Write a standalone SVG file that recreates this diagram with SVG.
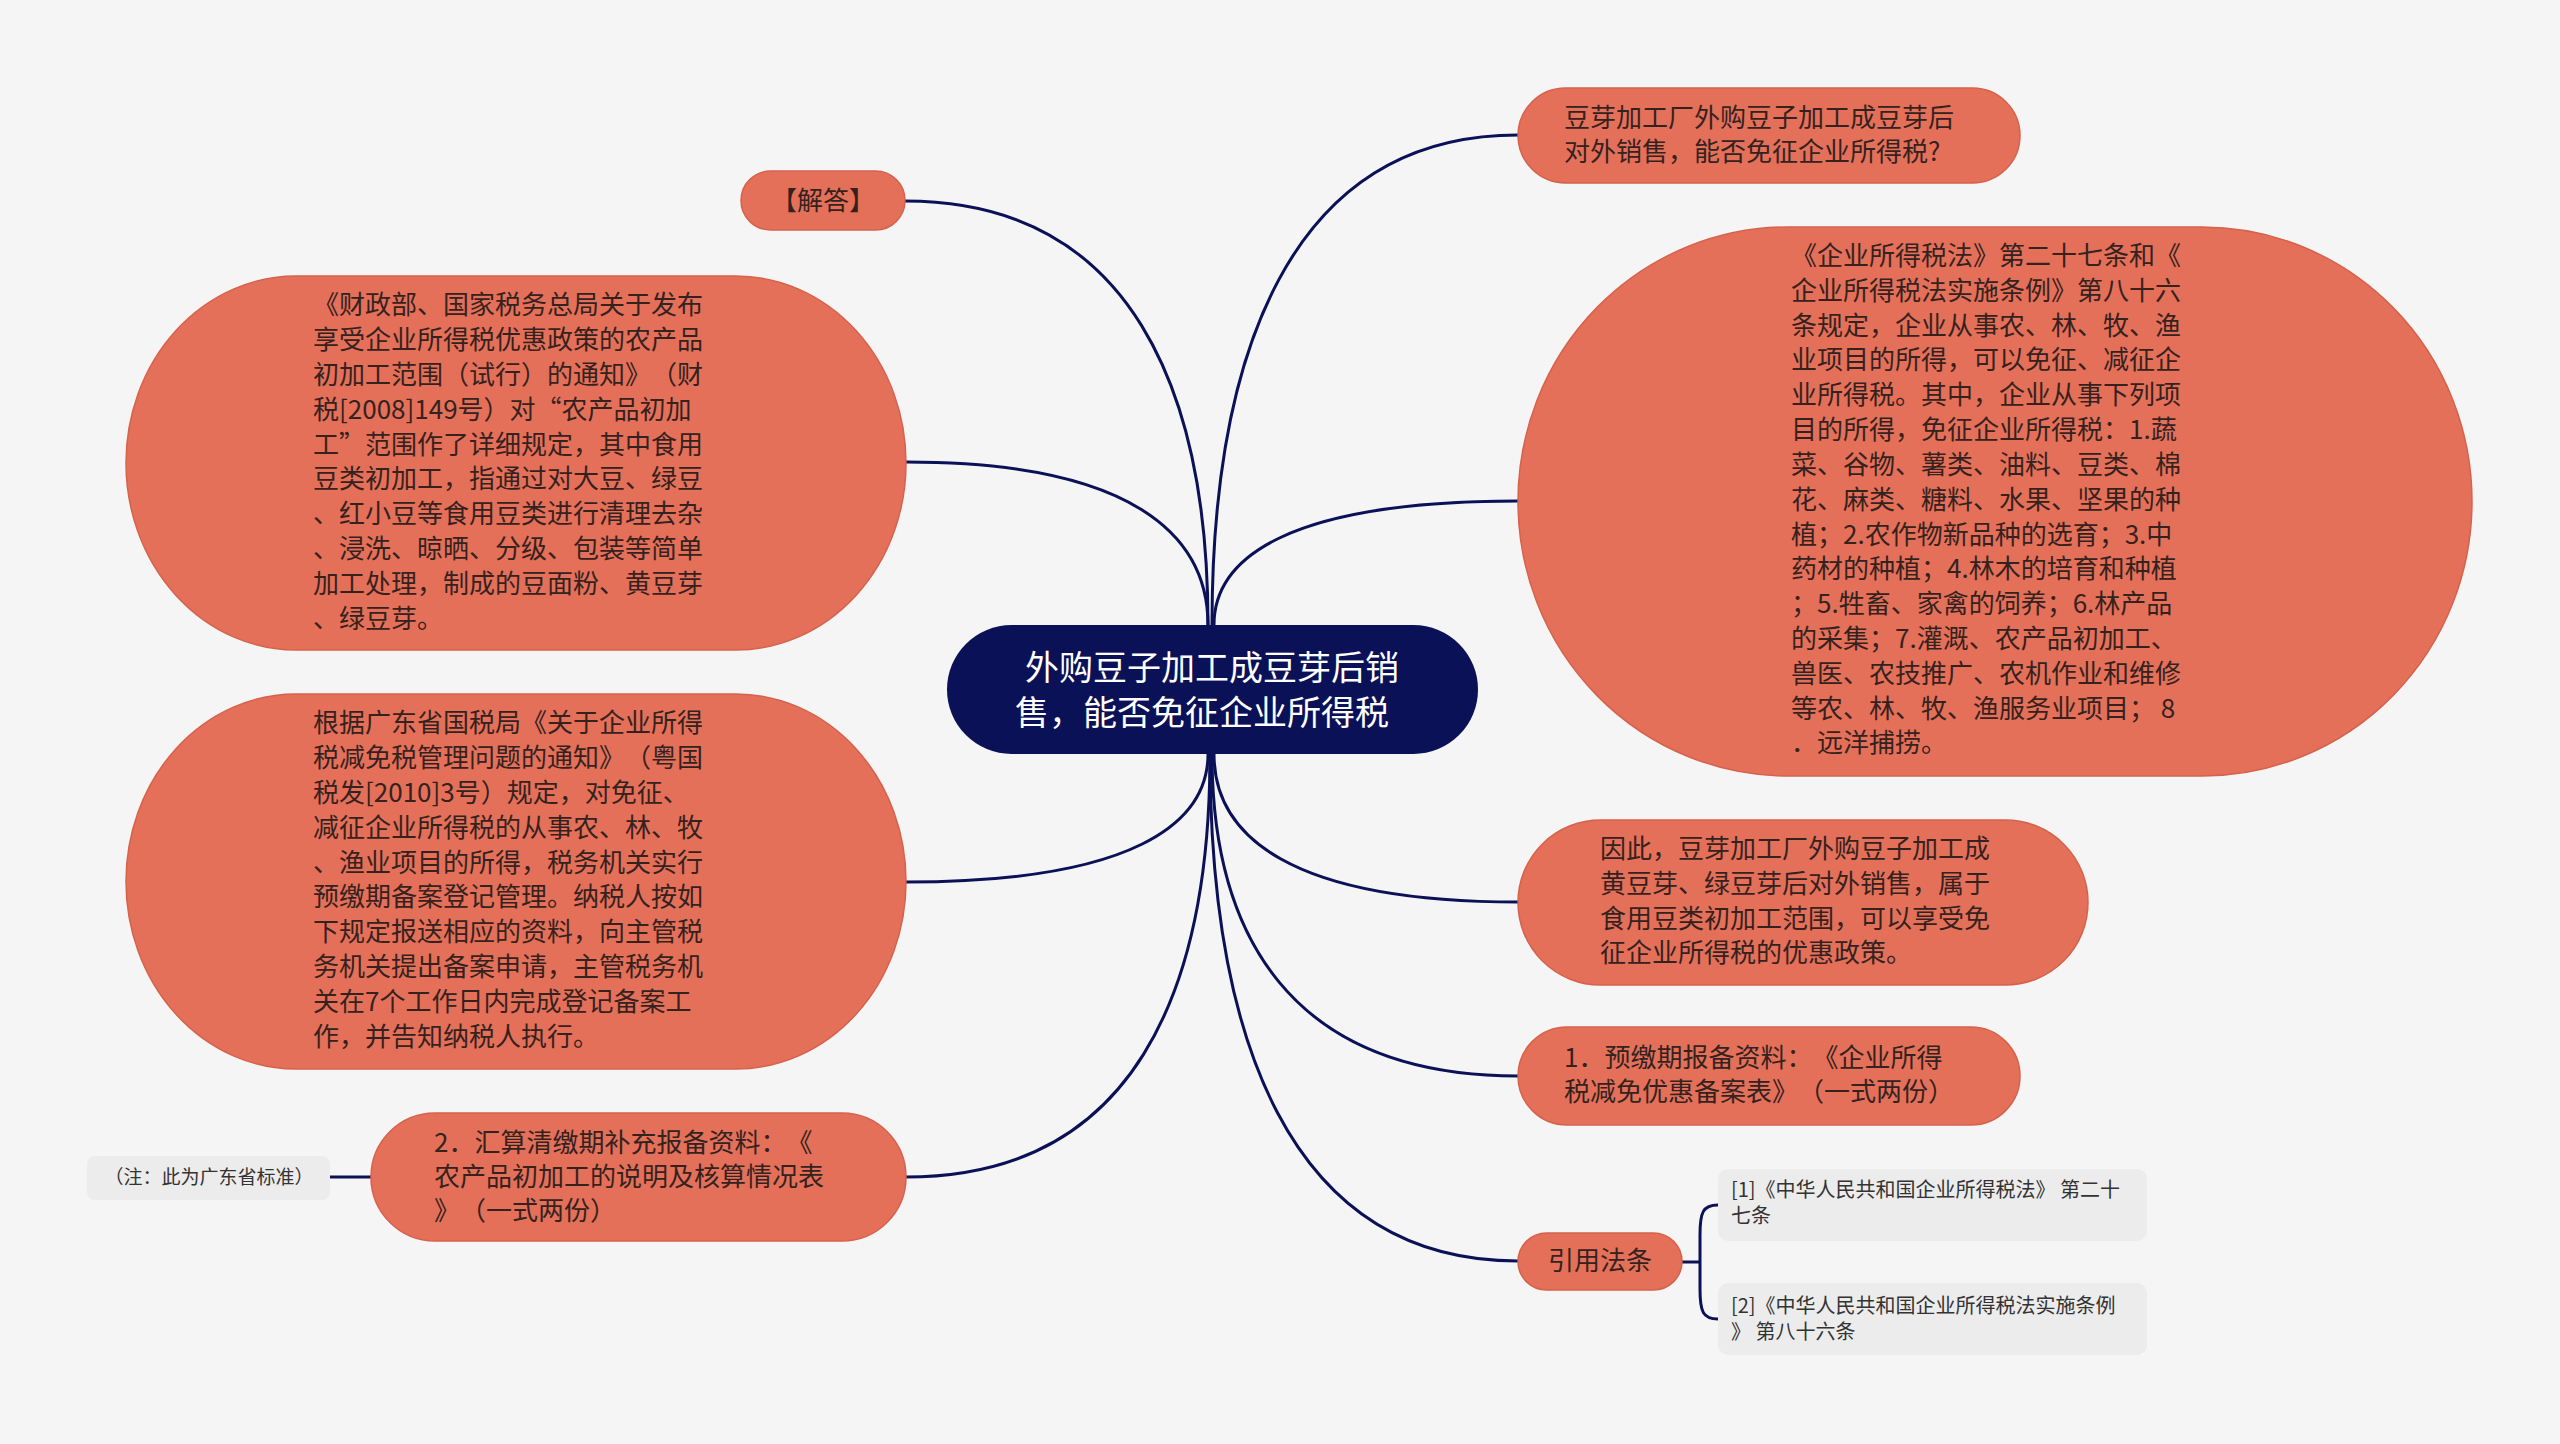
<svg xmlns="http://www.w3.org/2000/svg" width="2560" height="1444" viewBox="0 0 2560 1444">
<style>
.bg{fill:#f5f5f5}
.n{fill:#e4705a;stroke:#d6624c;stroke-width:1.5}
.root{fill:#0b1157}
.sub{fill:#ececec}
text{text-spacing-trim:space-all}
.t{font-family:"Noto Sans CJK SC","Noto Sans",sans-serif;font-size:26px;fill:#35221e}
.rt{font-family:"Noto Sans CJK SC","Noto Sans",sans-serif;font-size:34px;fill:#ffffff}
.st{font-family:"Noto Sans CJK SC","Noto Sans",sans-serif;font-size:20px;fill:#333333}
.nt{font-family:"Noto Sans CJK SC","Noto Sans",sans-serif;font-size:19px;fill:#333333}
.c{fill:none;stroke:#0b1157;stroke-width:3}
</style>
<rect class="bg" x="0" y="0" width="2560" height="1444"/>

<g id="connectors">
<path class="c" d="M1212 625 C1212 356 1289 135 1518 135"/>
<path class="c" d="M1214 625 C1214 557 1290 501 1518 501"/>
<path class="c" d="M1214 754 C1214 836 1290 902 1518 902"/>
<path class="c" d="M1212 754 C1212 933 1289 1076 1518 1076"/>
<path class="c" d="M1210 754 C1210 1034 1287 1261 1518 1261"/>
<path class="c" d="M1208 625 C1208 392 1132 201 905 201"/>
<path class="c" d="M1208 625 C1208 535 1132 462 906 462"/>
<path class="c" d="M1208 754 C1208 824 1132 882 906 882"/>
<path class="c" d="M1210 754 C1210 991 1134 1177 906 1177"/>
<path class="c" d="M371 1177 L330 1177"/>
<path class="c" d="M1682 1262 L1700 1262"/>
<path class="c" d="M1718 1205 C1703 1205 1700 1212 1700 1235 L1700 1289 C1700 1312 1703 1319 1718 1319"/>
</g>

<g id="root">
<rect class="root" x="947" y="625" width="531" height="129" rx="64.5"/>
<text class="rt"><tspan x="1025" y="680">外购豆子加工成豆芽后销</tspan><tspan x="1015" y="725">售，能否免征企业所得税</tspan></text>
</g>

<g id="n-question">
<rect class="n" x="1518" y="88" width="502" height="95" rx="47.5"/>
<text class="t"><tspan x="1564" y="127">豆芽加工厂外购豆子加工成豆芽后</tspan><tspan x="1564" y="161">对外销售，能否免征企业所得税?</tspan></text>
</g>

<g id="n-law">
<rect class="n" x="1518" y="227" width="954" height="549" rx="270" ry="274.5"/>
<text class="t">
<tspan x="1791" y="265">《企业所得税法》第二十七条和《</tspan>
<tspan x="1791" y="300">企业所得税法实施条例》第八十六</tspan>
<tspan x="1791" y="335">条规定，企业从事农、林、牧、渔</tspan>
<tspan x="1791" y="369">业项目的所得，可以免征、减征企</tspan>
<tspan x="1791" y="404">业所得税。其中，企业从事下列项</tspan>
<tspan x="1791" y="439">目的所得，免征企业所得税：1.蔬</tspan>
<tspan x="1791" y="474">菜、谷物、薯类、油料、豆类、棉</tspan>
<tspan x="1791" y="509">花、麻类、糖料、水果、坚果的种</tspan>
<tspan x="1791" y="544">植；2.农作物新品种的选育；3.中</tspan>
<tspan x="1791" y="578">药材的种植；4.林木的培育和种植</tspan>
<tspan x="1791" y="613">；5.牲畜、家禽的饲养；6.林产品</tspan>
<tspan x="1791" y="648">的采集；7.灌溉、农产品初加工、</tspan>
<tspan x="1791" y="683">兽医、农技推广、农机作业和维修</tspan>
<tspan x="1791" y="718">等农、林、牧、渔服务业项目； 8</tspan>
<tspan x="1791" y="752">．远洋捕捞。</tspan>
</text>
</g>

<g id="n-conclusion">
<rect class="n" x="1518" y="820" width="570" height="165" rx="82.5"/>
<text class="t"><tspan x="1600" y="858">因此，豆芽加工厂外购豆子加工成</tspan><tspan x="1600" y="893">黄豆芽、绿豆芽后对外销售，属于</tspan><tspan x="1600" y="928">食用豆类初加工范围，可以享受免</tspan><tspan x="1600" y="962">征企业所得税的优惠政策。</tspan></text>
</g>

<g id="n-prepay">
<rect class="n" x="1518" y="1027" width="502" height="98" rx="49"/>
<text class="t"><tspan x="1564" y="1067">1．预缴期报备资料：《企业所得</tspan><tspan x="1564" y="1101">税减免优惠备案表》（一式两份）</tspan></text>
</g>

<g id="n-cite">
<rect class="n" x="1518" y="1233" width="164" height="57" rx="28.5"/>
<text class="t" x="1600" y="1270" text-anchor="middle">引用法条</text>
</g>

<g id="n-cite1">
<rect class="sub" x="1718" y="1169" width="429" height="72" rx="10"/>
<text class="st"><tspan x="1731" y="1197">[1]《中华人民共和国企业所得税法》 第二十</tspan><tspan x="1731" y="1223">七条</tspan></text>
</g>

<g id="n-cite2">
<rect class="sub" x="1718" y="1283" width="429" height="72" rx="10"/>
<text class="st"><tspan x="1731" y="1313">[2]《中华人民共和国企业所得税法实施条例</tspan><tspan x="1731" y="1339">》 第八十六条</tspan></text>
</g>

<g id="n-answer">
<rect class="n" x="741" y="171" width="164" height="59" rx="29.5"/>
<text class="t" x="823" y="210" text-anchor="middle">【解答】</text>
</g>

<g id="n-notice">
<rect class="n" x="126" y="276" width="780" height="374" rx="170" ry="187"/>
<text class="t">
<tspan x="313" y="314">《财政部、国家税务总局关于发布</tspan>
<tspan x="313" y="349">享受企业所得税优惠政策的农产品</tspan>
<tspan x="313" y="384">初加工范围（试行）的通知》（财</tspan>
<tspan x="313" y="419">税[2008]149号）对“农产品初加</tspan>
<tspan x="313" y="454">工”范围作了详细规定，其中食用</tspan>
<tspan x="313" y="488">豆类初加工，指通过对大豆、绿豆</tspan>
<tspan x="313" y="523">、红小豆等食用豆类进行清理去杂</tspan>
<tspan x="313" y="558">、浸洗、晾晒、分级、包装等简单</tspan>
<tspan x="313" y="593">加工处理，制成的豆面粉、黄豆芽</tspan>
<tspan x="313" y="628">、绿豆芽。</tspan>
</text>
</g>

<g id="n-guangdong">
<rect class="n" x="126" y="694" width="780" height="375" rx="170" ry="187.5"/>
<text class="t">
<tspan x="313" y="732">根据广东省国税局《关于企业所得</tspan>
<tspan x="313" y="767">税减免税管理问题的通知》（粤国</tspan>
<tspan x="313" y="802">税发[2010]3号）规定，对免征、</tspan>
<tspan x="313" y="837">减征企业所得税的从事农、林、牧</tspan>
<tspan x="313" y="872">、渔业项目的所得，税务机关实行</tspan>
<tspan x="313" y="906">预缴期备案登记管理。纳税人按如</tspan>
<tspan x="313" y="941">下规定报送相应的资料，向主管税</tspan>
<tspan x="313" y="976">务机关提出备案申请，主管税务机</tspan>
<tspan x="313" y="1011">关在7个工作日内完成登记备案工</tspan>
<tspan x="313" y="1046">作，并告知纳税人执行。</tspan>
</text>
</g>

<g id="n-settle">
<rect class="n" x="371" y="1113" width="535" height="128" rx="64"/>
<text class="t"><tspan x="434" y="1152">2．汇算清缴期补充报备资料：《</tspan><tspan x="434" y="1186">农产品初加工的说明及核算情况表</tspan><tspan x="434" y="1220">》（一式两份）</tspan></text>
</g>

<g id="n-note">
<rect class="sub" x="87" y="1156" width="243" height="44" rx="8"/>
<text class="nt" x="209" y="1184" text-anchor="middle">（注：此为广东省标准）</text>
</g>
</svg>
